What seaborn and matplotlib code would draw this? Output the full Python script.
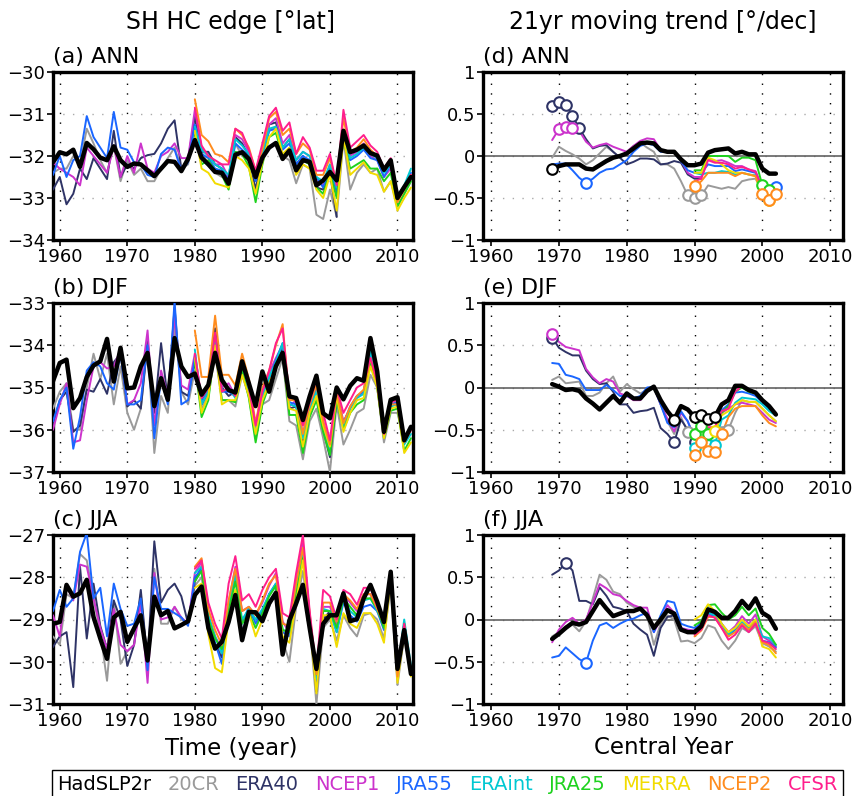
import numpy as np
import pandas as pd
import matplotlib
matplotlib.use("Agg")
import matplotlib.pyplot as plt
from matplotlib.ticker import FuncFormatter
import seaborn as sns

# ---- data -------------------------------------------------------------
names = ["HadSLP2r", "20CR", "ERA40", "NCEP1", "JRA55", "ERAint", "JRA25", "MERRA", "NCEP2", "CFSR"]
colors = ["#000000", "#9a9a9a", "#2e3366", "#cc33cc", "#1a66ff", "#00c8d2", "#1ed21e", "#f2dc00", "#ff8c1e", "#ff1e8c"]

yrs_full = list(range(1959, 2013))
yrs_era40 = list(range(1959, 2002))
yrs_sat = list(range(1980, 2013))
cy_full = list(range(1969, 2003))
cy_era40 = list(range(1969, 1992))
cy_sat = list(range(1990, 2003))

# (a) ANN edge latitude
ann_had = [-32.15, -31.91, -31.96, -31.85, -32.26, -31.69, -31.84, -32.04, -32.10, -31.77,
           -32.10, -32.26, -32.18, -32.20, -32.34, -32.48, -32.30, -32.12, -32.14, -32.36,
           -32.07, -31.62, -32.04, -32.20, -32.38, -32.40, -32.66, -31.97, -31.91, -32.07,
           -32.50, -32.04, -31.80, -31.69, -32.07, -31.87, -32.34, -32.10, -32.14, -32.70,
           -32.58, -32.38, -32.58, -31.40, -31.91, -31.85, -31.75, -31.93, -31.99, -32.33,
           -32.10, -33.00, -32.74, -32.50]
ann_20cr = [-32.40, -32.30, -32.30, -32.00, -32.20, -31.35, -31.70, -32.10, -32.40, -31.75,
            -32.60, -32.10, -32.45, -32.30, -32.60, -32.60, -32.30, -32.05, -31.80, -32.30,
            -32.20, -31.30, -31.90, -32.20, -32.40, -32.50, -32.50, -31.70, -32.00, -32.10,
            -32.60, -32.00, -31.40, -31.30, -32.00, -32.10, -32.65, -32.20, -32.30, -33.40,
            -33.50, -32.80, -33.45, -31.60, -32.80, -32.40, -32.20, -32.40, -32.30, -32.85,
            -32.60, -33.20, -32.90, -32.60]
ann_era40 = [-32.80, -32.50, -33.15, -32.90, -32.30, -32.55, -32.05, -32.30, -32.55, -31.40,
             -32.50, -32.20, -32.30, -32.05, -31.98, -31.95, -31.70, -31.35, -31.15, -32.30,
             -32.10, -31.05, -31.90, -31.90, -32.20, -32.30, -32.60, -31.55, -31.70, -32.00,
             -32.80, -32.00, -31.25, -31.20, -31.80, -31.60, -32.20, -32.00, -32.20, -32.75,
             -32.80, -32.40, -33.45]
ann_ncep1 = [-32.15, -32.30, -32.40, -32.50, -32.70, -31.80, -32.00, -32.20, -32.40, -31.75,
             -32.50, -32.00, -32.40, -31.70, -32.30, -32.40, -32.00, -31.90, -31.70, -32.05,
             -32.05, -30.90, -31.80, -32.00, -32.20, -32.20, -32.50, -31.50, -31.60, -31.90,
             -32.40, -31.90, -31.25, -31.10, -31.70, -31.50, -32.10, -31.90, -32.00, -32.60,
             -32.70, -32.20, -32.90, -31.50, -32.00, -31.90, -31.70, -32.00, -32.10, -32.50,
             -32.30, -33.00, -32.80, -32.50]
ann_jra55 = [-32.45, -32.00, -32.50, -32.10, -32.00, -31.05, -31.55, -31.80, -32.05, -30.95,
             -31.80, -31.85, -32.15, -32.20, -32.45, -32.50, -31.95, -31.80, -31.85, -32.35,
             -32.15, -31.25, -31.95, -32.05, -32.30, -32.35, -32.55, -31.70, -31.85, -32.00,
             -32.60, -32.00, -31.40, -31.35, -31.85, -31.70, -32.20, -32.00, -32.10, -32.50,
             -32.75, -32.30, -32.85, -31.55, -32.10, -32.00, -31.85, -32.05, -32.10, -32.50,
             -32.20, -33.00, -32.75, -32.40]
ann_eraint = [-31.30, -31.85, -32.00, -32.20, -32.30, -32.45, -31.60, -31.75, -31.95, -32.50,
              -31.95, -31.35, -31.30, -31.80, -31.60, -32.10, -31.90, -32.00, -32.50, -32.60,
              -32.20, -32.75, -31.50, -32.05, -31.95, -31.80, -31.95, -32.05, -32.40, -32.20,
              -32.95, -32.70, -32.30]
ann_jra25 = [-31.50, -32.20, -32.10, -32.35, -32.45, -32.80, -31.90, -31.95, -32.25, -33.10,
             -32.20, -31.55, -31.45, -32.00, -31.85, -32.35, -32.10, -32.20, -32.75, -32.90,
             -32.40, -33.00, -31.60, -32.30, -32.20, -32.10, -32.30, -32.30, -32.60, -32.40,
             -33.20, -32.90, -32.60]
ann_merra = [-31.40, -32.30, -32.40, -32.65, -32.70, -32.75, -32.00, -32.10, -32.30, -32.90,
             -32.15, -31.55, -31.35, -31.95, -31.80, -32.45, -32.20, -32.30, -32.80, -33.00,
             -32.45, -33.30, -31.55, -32.45, -32.30, -32.15, -32.40, -32.45, -32.85, -32.60,
             -33.30, -33.00, -32.75]
ann_ncep2 = [-30.65, -31.50, -31.65, -31.95, -32.00, -32.15, -31.35, -31.50, -31.80, -32.35,
             -31.85, -31.10, -30.95, -31.50, -31.35, -31.95, -31.70, -31.85, -32.45, -32.45,
             -32.05, -32.65, -31.10, -31.90, -31.80, -31.60, -31.85, -32.00, -32.35, -32.10,
             -33.10, -32.80, -32.45]
ann_cfsr = [-30.85, -31.75, -32.00, -32.10, -32.20, -32.20, -31.35, -31.45, -31.85, -32.35,
            -31.70, -31.05, -30.85, -31.40, -31.20, -31.95, -31.55, -31.80, -32.35, -32.35,
            -31.95, -32.70, -30.90, -31.80, -31.65, -31.50, -31.75, -31.90, -32.30, -32.05,
            -33.00, -32.75, -32.45]

# (b) DJF edge latitude
djf_had = [-34.85, -34.42, -34.34, -35.49, -35.25, -34.75, -34.48, -34.38, -33.85, -34.86,
           -34.06, -35.02, -35.00, -34.50, -34.18, -35.44, -34.78, -35.29, -33.83, -34.50,
           -34.75, -34.67, -35.17, -34.94, -34.18, -34.82, -35.06, -35.12, -34.38, -34.90,
           -35.44, -34.62, -35.10, -34.50, -34.18, -35.21, -35.25, -35.77, -35.21, -34.72,
           -35.61, -35.73, -35.00, -35.28, -34.96, -34.78, -34.84, -33.83, -34.62, -36.05,
           -35.29, -35.23, -36.25, -35.93]
djf_20cr = [-35.50, -35.10, -34.90, -36.00, -36.00, -35.00, -34.20, -34.80, -34.20, -35.40,
            -34.50, -35.60, -36.00, -35.50, -34.00, -36.55, -35.20, -35.60, -33.50, -35.10,
            -35.40, -34.60, -35.50, -35.20, -34.20, -35.30, -35.30, -35.45, -34.70, -35.20,
            -36.20, -35.40, -35.30, -34.80, -34.30, -35.80, -35.90, -36.70, -35.80, -35.50,
            -36.20, -37.00, -35.40, -36.35, -36.00, -35.60, -35.50, -34.70, -35.00, -36.30,
            -35.60, -35.60, -36.30, -36.00]
djf_era40 = [-35.90, -35.30, -35.10, -36.05, -35.90, -35.05, -35.10, -34.80, -35.15, -34.40,
             -34.20, -35.45, -35.30, -35.50, -33.90, -35.60, -33.95, -35.30, -33.10, -35.10,
             -35.20, -34.40, -35.40, -35.10, -33.60, -35.00, -35.20, -35.10, -34.50, -35.00,
             -36.10, -35.20, -34.90, -34.50, -34.05, -35.50, -35.45, -36.30, -35.60, -35.00,
             -36.00, -36.65, -35.30]
djf_ncep1 = [-36.00, -35.40, -34.90, -36.30, -36.25, -35.30, -34.50, -34.40, -34.55, -34.50,
             -34.10, -35.40, -35.30, -34.90, -33.65, -35.90, -34.60, -35.20, -33.30, -34.95,
             -35.05, -34.20, -35.30, -35.05, -33.80, -35.00, -34.90, -35.20, -34.40, -35.00,
             -35.90, -35.10, -34.65, -34.30, -34.00, -35.45, -35.30, -36.10, -35.40, -35.00,
             -35.80, -36.40, -35.10, -35.80, -35.50, -35.20, -35.10, -34.20, -34.80, -36.10,
             -35.40, -35.35, -36.30, -36.00]
djf_jra55 = [-35.80, -35.30, -35.00, -36.45, -35.70, -34.60, -34.40, -34.50, -34.90, -35.05,
             -34.20, -35.40, -35.40, -35.30, -34.00, -36.20, -34.75, -35.40, -32.95, -35.40,
             -35.30, -34.30, -35.30, -35.00, -33.90, -35.10, -35.10, -35.20, -34.50, -35.05,
             -36.10, -35.20, -34.80, -34.35, -33.95, -35.35, -35.40, -36.20, -35.50, -35.00,
             -35.90, -36.50, -35.20, -35.85, -35.45, -35.20, -35.10, -34.20, -34.80, -36.10,
             -35.40, -35.35, -36.20, -36.00]
djf_eraint = [-34.10, -35.40, -35.10, -33.80, -35.10, -35.00, -35.25, -34.50, -35.10, -36.00,
              -35.25, -34.75, -34.40, -33.95, -35.40, -35.45, -36.20, -35.50, -35.10, -35.95,
              -36.45, -35.15, -35.90, -35.50, -35.25, -35.15, -34.10, -34.90, -36.15, -35.45,
              -35.40, -36.35, -36.10]
djf_jra25 = [-34.40, -35.70, -35.30, -34.00, -35.30, -35.30, -35.35, -34.60, -35.25, -36.30,
             -35.40, -34.95, -34.50, -34.20, -35.65, -35.65, -36.55, -35.70, -35.30, -36.05,
             -36.60, -35.30, -36.00, -35.60, -35.40, -35.30, -34.40, -35.00, -36.20, -35.55,
             -35.50, -36.50, -36.20]
djf_merra = [-34.30, -35.60, -35.20, -34.00, -35.40, -35.30, -35.30, -34.70, -35.20, -36.10,
             -35.30, -34.90, -34.50, -34.20, -35.50, -35.55, -36.40, -35.60, -35.20, -35.90,
             -36.40, -35.20, -36.05, -35.60, -35.30, -35.25, -34.50, -35.00, -36.20, -35.50,
             -35.45, -36.55, -36.30]
djf_ncep2 = [-33.65, -34.75, -34.75, -33.30, -34.70, -34.70, -34.95, -34.20, -34.80, -35.85,
             -35.00, -34.60, -34.00, -33.50, -35.30, -35.30, -36.10, -35.40, -34.95, -35.80,
             -36.35, -35.10, -35.85, -35.45, -35.20, -35.05, -34.30, -34.90, -36.10, -35.40,
             -35.40, -36.30, -36.00]
djf_cfsr = [-34.20, -35.25, -35.00, -33.70, -35.10, -35.00, -35.20, -34.40, -35.00, -35.90,
            -35.10, -34.60, -33.95, -33.60, -35.25, -35.25, -35.90, -35.35, -34.80, -35.60,
            -36.25, -35.00, -35.60, -35.30, -35.00, -34.90, -34.30, -34.85, -36.10, -35.35,
            -35.30, -36.25, -36.00]

# (c) JJA edge latitude
jja_had = [-29.10, -29.06, -28.18, -28.46, -28.38, -28.06, -28.94, -29.45, -29.93, -28.95,
           -28.82, -29.53, -29.21, -28.90, -29.97, -28.46, -28.90, -28.80, -29.21, -29.13,
           -29.04, -28.42, -28.22, -29.20, -29.69, -29.53, -29.06, -28.42, -29.49, -28.82,
           -28.83, -29.04, -28.62, -28.37, -29.83, -29.02, -28.62, -28.18, -29.20, -30.17,
           -29.10, -28.90, -28.90, -28.38, -29.04, -28.99, -28.50, -28.18, -28.58, -29.06,
           -27.87, -30.17, -29.25, -30.29]
jja_20cr = [-29.40, -29.60, -28.40, -28.50, -27.45, -27.60, -28.50, -29.30, -30.45, -28.55,
            -30.05, -29.75, -29.60, -28.40, -30.10, -27.80, -29.10, -29.10, -28.70, -29.00,
            -29.10, -28.20, -28.00, -29.00, -29.60, -29.80, -29.00, -28.30, -29.35, -28.90,
            -29.00, -29.00, -28.70, -28.30, -29.50, -30.00, -28.70, -27.85, -29.10, -31.00,
            -29.20, -29.00, -29.50, -28.90, -29.20, -29.40, -28.90, -28.85, -29.00, -29.45,
            -28.20, -30.55, -29.40, -30.30]
jja_era40 = [-29.65, -29.40, -29.30, -30.60, -27.75, -29.45, -28.15, -29.15, -29.70, -28.55,
             -29.00, -30.10, -29.60, -28.30, -30.00, -27.15, -28.60, -28.30, -28.15, -28.45,
             -29.10, -28.10, -27.75, -29.10, -29.60, -29.90, -29.00, -27.85, -29.30, -28.80,
             -29.00, -28.90, -28.40, -28.20, -29.60, -29.20, -28.50, -27.50, -29.00, -30.70,
             -29.00, -28.80, -29.20]
jja_ncep1 = [-28.90, -29.40, -28.20, -28.55, -27.70, -27.75, -28.50, -29.20, -29.70, -28.75,
             -29.60, -29.75, -29.60, -28.60, -30.50, -27.90, -29.00, -28.95, -28.70, -28.95,
             -29.10, -27.90, -27.65, -28.90, -29.40, -29.70, -28.60, -27.75, -28.80, -28.70,
             -28.90, -28.60, -28.20, -27.90, -29.05, -29.30, -28.10, -27.20, -28.90, -30.30,
             -28.70, -28.70, -29.10, -28.40, -28.60, -28.80, -28.40, -28.40, -28.80, -29.10,
             -27.90, -30.30, -29.20, -30.20]
jja_jra55 = [-28.80, -28.30, -28.70, -28.50, -27.40, -26.95, -28.50, -28.25, -29.40, -28.15,
             -28.75, -29.15, -29.10, -28.50, -30.20, -28.00, -28.75, -28.75, -28.85, -28.95,
             -29.15, -28.00, -27.80, -29.00, -29.55, -30.05, -28.90, -27.95, -29.10, -28.70,
             -29.10, -28.80, -28.40, -28.15, -29.30, -29.40, -28.40, -27.50, -29.00, -30.50,
             -28.80, -28.80, -29.30, -28.60, -28.90, -29.05, -28.70, -28.65, -28.80, -29.25,
             -28.00, -30.20, -29.10, -30.20]
jja_eraint = [-27.90, -27.75, -28.90, -29.40, -29.80, -28.70, -27.95, -29.00, -28.75, -29.00,
              -28.75, -28.40, -28.15, -29.25, -29.30, -28.30, -27.45, -28.95, -30.40, -28.75,
              -28.80, -29.30, -28.50, -28.80, -28.95, -28.55, -28.50, -28.80, -29.10, -27.90,
              -30.20, -29.00, -30.10]
jja_jra25 = [-28.10, -27.85, -29.00, -29.45, -29.70, -28.80, -28.10, -29.10, -28.85, -29.20,
             -28.85, -28.45, -28.20, -29.25, -29.30, -28.40, -27.55, -28.95, -30.30, -28.80,
             -28.80, -29.20, -28.50, -28.70, -28.90, -28.50, -28.50, -28.75, -29.20, -27.95,
             -30.25, -29.10, -30.20]
jja_merra = [-28.25, -28.15, -29.35, -30.15, -30.25, -29.00, -28.30, -29.40, -28.85, -29.40,
             -29.00, -28.60, -28.40, -29.40, -29.55, -28.60, -27.60, -29.10, -30.75, -28.90,
             -28.90, -29.65, -28.85, -29.10, -29.20, -28.85, -28.85, -29.10, -29.55, -28.05,
             -30.50, -29.30, -30.35]
jja_ncep2 = [-27.75, -27.55, -28.75, -29.25, -29.60, -28.55, -27.80, -28.80, -28.70, -28.90,
             -28.55, -28.15, -27.95, -29.10, -29.15, -28.15, -27.30, -28.85, -30.30, -28.60,
             -28.60, -29.05, -28.40, -28.55, -28.75, -28.40, -28.40, -28.75, -29.10, -27.90,
             -30.35, -29.15, -30.25]
jja_cfsr = [-27.80, -27.60, -28.60, -29.10, -29.45, -28.15, -27.50, -28.55, -28.40, -28.70,
            -28.30, -28.00, -27.80, -28.85, -28.95, -27.90, -27.00, -28.80, -30.20, -28.30,
            -28.45, -29.00, -28.30, -28.40, -28.65, -28.25, -28.25, -28.70, -29.00, -27.85,
            -30.20, -29.10, -30.20]

# (d) ANN 21yr moving trend
tann_had = [-0.16, -0.12, -0.10, -0.10, -0.10, -0.15, -0.16, -0.11, -0.06, -0.02,
            0.00, 0.03, 0.09, 0.15, 0.16, 0.15, 0.07, 0.05, 0.05, -0.04,
            -0.11, -0.11, -0.09, 0.04, 0.07, 0.08, 0.09, 0.03, 0.05, 0.02,
            0.02, -0.15, -0.21, -0.21]
tann_20cr = [-0.02, 0.11, 0.06, 0.02, -0.03, -0.10, -0.05, 0.03, 0.11, 0.05,
             -0.02, 0.05, 0.12, 0.16, 0.10, 0.05, -0.10, -0.10, -0.15, -0.30,
             -0.47, -0.50, -0.47, -0.35, -0.37, -0.39, -0.37, -0.39, -0.30, -0.28,
             -0.27, -0.42, -0.46, -0.44]
tann_era40 = [0.59, 0.64, 0.61, 0.48, 0.33, 0.20, 0.09, 0.12, 0.13, 0.05,
              -0.02, -0.10, -0.07, -0.03, -0.03, -0.04, -0.10, -0.09, -0.06, -0.08,
              -0.22, -0.27, -0.27]
tann_ncep1 = [0.19, 0.32, 0.34, 0.33, 0.30, 0.17, 0.10, 0.13, 0.15, 0.11,
              0.08, 0.05, 0.12, 0.18, 0.21, 0.20, 0.07, 0.05, 0.05, -0.05,
              -0.20, -0.25, -0.25, -0.03, -0.06, -0.05, -0.08, -0.12, -0.12, -0.16,
              -0.18, -0.38, -0.41, -0.38]
tann_jra55 = [-0.10, -0.09, -0.09, -0.17, -0.26, -0.32, -0.27, -0.20, -0.16, -0.15,
              -0.10, -0.05, 0.05, 0.12, 0.15, 0.13, 0.05, 0.05, 0.04, -0.06,
              -0.17, -0.20, -0.20, -0.10, -0.12, -0.12, -0.12, -0.18, -0.16, -0.18,
              -0.20, -0.38, -0.42, -0.37]
tann_eraint = [-0.20, -0.22, -0.20, -0.20, -0.18, -0.19, -0.22, -0.20, -0.22, -0.23, -0.40, -0.43, -0.40]
tann_jra25 = [-0.17, -0.17, 0.00, 0.00, 0.00, 0.00, -0.07, -0.02, -0.02, -0.05, -0.35, -0.40, -0.38]
tann_merra = [-0.20, -0.20, -0.02, -0.05, -0.10, -0.17, -0.20, -0.20, -0.22, -0.24, -0.48, -0.52, -0.47]
tann_ncep2 = [-0.36, -0.30, -0.20, -0.20, -0.20, -0.20, -0.24, -0.20, -0.22, -0.24, -0.45, -0.52, -0.45]
tann_cfsr = [-0.30, -0.27, -0.05, -0.08, -0.08, -0.10, -0.15, -0.13, -0.16, -0.19, -0.38, -0.40, -0.37]

# (e) DJF 21yr moving trend
tdjf_had = [0.04, 0.01, -0.03, -0.02, -0.04, -0.13, -0.19, -0.26, -0.18, -0.10,
            -0.18, -0.07, -0.13, -0.13, -0.04, 0.01, -0.15, -0.28, -0.38, -0.22,
            -0.26, -0.35, -0.33, -0.37, -0.35, -0.20, -0.15, 0.02, 0.02, -0.03,
            -0.06, -0.15, -0.22, -0.32]
tdjf_20cr = [0.09, 0.13, 0.05, 0.06, 0.07, -0.10, -0.10, -0.06, 0.05, 0.13,
             -0.05, 0.04, -0.02, -0.07, -0.03, 0.00, -0.20, -0.40, -0.55, -0.35,
             -0.53, -0.55, -0.52, -0.50, -0.50, -0.53, -0.50, -0.30, -0.15, -0.17,
             -0.17, -0.25, -0.33, -0.40]
tdjf_era40 = [0.59, 0.47, 0.42, 0.38, 0.38, 0.20, 0.10, 0.04, 0.05, -0.05,
              -0.20, -0.20, -0.30, -0.28, -0.27, -0.24, -0.48, -0.55, -0.65, -0.38,
              -0.50, -0.65, -0.50]
tdjf_ncep1 = [0.63, 0.54, 0.48, 0.46, 0.44, 0.22, 0.12, 0.05, 0.10, 0.07,
              -0.07, -0.10, -0.15, -0.15, -0.05, 0.01, -0.20, -0.37, -0.52, -0.30,
              -0.40, -0.60, -0.42, -0.50, -0.48, -0.30, -0.25, -0.20, -0.18, -0.20,
              -0.22, -0.30, -0.38, -0.42]
tdjf_jra55 = [0.29, 0.28, 0.15, 0.13, 0.10, -0.03, -0.03, -0.03, 0.03, -0.03,
              -0.10, -0.10, -0.13, -0.10, 0.00, 0.01, -0.20, -0.42, -0.47, -0.28,
              -0.40, -0.60, -0.45, -0.50, -0.50, -0.27, -0.20, -0.06, -0.05, -0.07,
              -0.10, -0.17, -0.26, -0.32]
tdjf_eraint = [-0.72, -0.60, -0.68, -0.68, -0.38, -0.33, -0.18, -0.12, -0.13, -0.14, -0.20, -0.28, -0.33]
tdjf_jra25 = [-0.55, -0.45, -0.55, -0.55, -0.30, -0.22, -0.05, 0.00, -0.05, -0.07, -0.15, -0.24, -0.30]
tdjf_merra = [-0.58, -0.50, -0.55, -0.52, -0.33, -0.28, -0.20, -0.15, -0.17, -0.17, -0.25, -0.33, -0.40]
tdjf_ncep2 = [-0.80, -0.65, -0.75, -0.76, -0.55, -0.35, -0.25, -0.22, -0.22, -0.22, -0.33, -0.42, -0.46]
tdjf_cfsr = [-0.50, -0.42, -0.47, -0.47, -0.28, -0.25, -0.05, 0.02, -0.03, -0.06, -0.15, -0.22, -0.30]

# (f) JJA 21yr moving trend
tjja_had = [-0.23, -0.17, -0.10, -0.04, -0.06, -0.03, 0.10, 0.23, 0.13, 0.04,
            0.07, 0.10, 0.10, 0.13, 0.05, -0.10, 0.00, 0.11, 0.07, -0.12,
            -0.15, -0.15, -0.08, 0.12, 0.09, 0.02, 0.02, 0.10, 0.22, 0.13,
            0.25, 0.08, 0.03, -0.11]
tjja_20cr = [-0.20, -0.15, -0.08, -0.06, -0.14, -0.02, 0.25, 0.53, 0.47, 0.33,
             0.30, 0.20, 0.15, 0.12, 0.05, -0.30, -0.05, 0.05, 0.00, -0.26,
             -0.25, -0.28, -0.22, -0.07, -0.10, -0.25, -0.35, -0.25, -0.10, -0.15,
             -0.08, -0.28, -0.32, -0.38]
tjja_era40 = [0.53, 0.58, 0.67, 0.58, 0.22, 0.22, 0.18, 0.38, 0.28, 0.15,
              0.13, 0.10, -0.05, -0.12, -0.18, -0.43, -0.10, 0.03, 0.05, -0.12,
              -0.15, -0.13, -0.03]
tjja_ncep1 = [-0.27, -0.12, -0.03, 0.02, -0.05, 0.00, 0.20, 0.42, 0.37, 0.30,
              0.28, 0.22, 0.17, 0.14, 0.14, -0.15, 0.00, 0.17, 0.08, -0.10,
              -0.12, -0.13, -0.07, 0.10, 0.05, -0.05, -0.15, -0.08, 0.04, -0.05,
              0.06, -0.20, -0.25, -0.32]
tjja_jra55 = [-0.45, -0.43, -0.33, -0.40, -0.47, -0.51, -0.25, -0.07, -0.04, -0.10,
              -0.05, -0.01, 0.01, 0.05, 0.08, -0.15, 0.05, 0.22, 0.20, -0.05,
              -0.08, -0.10, -0.05, 0.07, 0.03, -0.05, -0.20, -0.12, -0.05, -0.12,
              -0.03, -0.25, -0.27, -0.33]
tjja_eraint = [-0.15, -0.08, 0.08, 0.05, -0.05, -0.18, -0.10, -0.03, -0.10, 0.00, -0.20, -0.22, -0.30]
tjja_jra25 = [-0.07, -0.02, 0.17, 0.18, 0.08, 0.00, 0.05, 0.15, 0.05, 0.13, -0.10, -0.17, -0.30]
tjja_merra = [0.00, 0.05, 0.18, 0.10, -0.05, -0.15, -0.10, 0.00, -0.08, 0.00, -0.32, -0.35, -0.45]
tjja_ncep2 = [-0.20, -0.13, 0.03, 0.03, -0.10, -0.20, -0.15, -0.05, -0.12, -0.03, -0.27, -0.30, -0.40]
tjja_cfsr = [-0.18, -0.12, 0.05, 0.02, -0.10, -0.24, -0.18, -0.07, -0.15, -0.05, -0.25, -0.28, -0.35]

# central years where the trend is significant (open circles)
sig_ann = {"HadSLP2r": [1969], "20CR": [1989, 1990, 1991], "ERA40": [1969, 1970, 1971, 1972, 1973],
           "NCEP1": [1970, 1971, 1972], "JRA55": [1974, 2002], "JRA25": [2000, 2001],
           "MERRA": [2001], "NCEP2": [1990, 2000, 2001, 2002]}
sig_djf = {"HadSLP2r": [1987, 1990, 1991, 1992, 1993], "20CR": [1989, 1994, 1995],
           "ERA40": [1969, 1987, 1990], "NCEP1": [1969], "ERAint": [1990, 1992, 1993],
           "JRA25": [1990, 1991, 1992], "MERRA": [1993], "NCEP2": [1990, 1991, 1992, 1993, 1994]}
sig_jja = {"ERA40": [1971], "JRA55": [1974]}

# ---- layout -----------------------------------------------------------
sns.set_theme(style="white")
plt.rcParams["font.family"] = ["DejaVu Sans"]
plt.rcParams["axes.unicode_minus"] = True
plt.rcParams["text.color"] = "black"
plt.rcParams["axes.labelcolor"] = "black"
plt.rcParams["xtick.color"] = "black"
plt.rcParams["ytick.color"] = "black"

W, H = 852, 796
fig = plt.figure(figsize=(W / 100, H / 100), dpi=100)

def box(x0, y0, x1, y1):
    return [x0 / W, 1 - y1 / H, (x1 - x0) / W, (y1 - y0) / H]

rows = [(72, 240), (303, 472), (535, 704)]
left_axes = [fig.add_axes(box(53, r0, 413, r1)) for r0, r1 in rows]
right_axes = [fig.add_axes(box(483, r0, 843, r1)) for r0, r1 in rows]

color_of = dict(zip(names, colors))
fmt = FuncFormatter(lambda v, _: f"{v:g}".replace("-", "\u2212"))
tick_font = "Liberation Sans Narrow"


def style_axes(ax, xlim, ylim, yticks):
    ax.set_xlim(*xlim)
    ax.set_ylim(*ylim)
    ax.set_xticks(range(1960, 2011, 10))
    ax.set_yticks(yticks)
    ax.yaxis.set_major_formatter(fmt)
    ax.set_xlabel("")
    ax.set_ylabel("")
    for s in ax.spines.values():
        s.set_linewidth(2.4)
        s.set_color("black")
    ax.tick_params(direction="out", length=4, width=1.2, pad=1.5, labelsize=13,
                   colors="black", bottom=True, left=True)
    for lab in ax.get_xticklabels() + ax.get_yticklabels():
        lab.set_fontfamily(tick_font)
    for x in range(1960, 2011, 10):
        ax.axvline(x, color="black", lw=1.0, ls=(0, (1, 6)), zorder=0)
    for y in yticks[1:-1]:
        ax.axhline(y, color="#aaaaaa", lw=1.0, ls=(0, (1, 6)), zorder=0)


def draw_panel(ax, series, sig=None):
    order = names[1:] + names[:1]
    for nm in order:
        x, y = series[nm]
        lw = 3.2 if nm == "HadSLP2r" else 1.4
        sns.lineplot(x=x, y=y, ax=ax, color=color_of[nm], linewidth=lw,
                     label=nm, legend=False, zorder=5 if nm == "HadSLP2r" else 3)
    if sig:
        for nm in order:
            if nm not in sig:
                continue
            x, y = series[nm]
            lookup = dict(zip(x, y))
            sx = sig[nm]
            sy = [lookup[v] for v in sx]
            ax.scatter(sx, sy, s=58, facecolor="white", edgecolor=color_of[nm],
                       linewidth=1.5, zorder=6 if nm == "HadSLP2r" else 4)


left_data = [
    {"HadSLP2r": (yrs_full, ann_had), "20CR": (yrs_full, ann_20cr), "ERA40": (yrs_era40, ann_era40),
     "NCEP1": (yrs_full, ann_ncep1), "JRA55": (yrs_full, ann_jra55), "ERAint": (yrs_sat, ann_eraint),
     "JRA25": (yrs_sat, ann_jra25), "MERRA": (yrs_sat, ann_merra), "NCEP2": (yrs_sat, ann_ncep2),
     "CFSR": (yrs_sat, ann_cfsr)},
    {"HadSLP2r": (yrs_full, djf_had), "20CR": (yrs_full, djf_20cr), "ERA40": (yrs_era40, djf_era40),
     "NCEP1": (yrs_full, djf_ncep1), "JRA55": (yrs_full, djf_jra55), "ERAint": (yrs_sat, djf_eraint),
     "JRA25": (yrs_sat, djf_jra25), "MERRA": (yrs_sat, djf_merra), "NCEP2": (yrs_sat, djf_ncep2),
     "CFSR": (yrs_sat, djf_cfsr)},
    {"HadSLP2r": (yrs_full, jja_had), "20CR": (yrs_full, jja_20cr), "ERA40": (yrs_era40, jja_era40),
     "NCEP1": (yrs_full, jja_ncep1), "JRA55": (yrs_full, jja_jra55), "ERAint": (yrs_sat, jja_eraint),
     "JRA25": (yrs_sat, jja_jra25), "MERRA": (yrs_sat, jja_merra), "NCEP2": (yrs_sat, jja_ncep2),
     "CFSR": (yrs_sat, jja_cfsr)},
]
right_data = [
    {"HadSLP2r": (cy_full, tann_had), "20CR": (cy_full, tann_20cr), "ERA40": (cy_era40, tann_era40),
     "NCEP1": (cy_full, tann_ncep1), "JRA55": (cy_full, tann_jra55), "ERAint": (cy_sat, tann_eraint),
     "JRA25": (cy_sat, tann_jra25), "MERRA": (cy_sat, tann_merra), "NCEP2": (cy_sat, tann_ncep2),
     "CFSR": (cy_sat, tann_cfsr)},
    {"HadSLP2r": (cy_full, tdjf_had), "20CR": (cy_full, tdjf_20cr), "ERA40": (cy_era40, tdjf_era40),
     "NCEP1": (cy_full, tdjf_ncep1), "JRA55": (cy_full, tdjf_jra55), "ERAint": (cy_sat, tdjf_eraint),
     "JRA25": (cy_sat, tdjf_jra25), "MERRA": (cy_sat, tdjf_merra), "NCEP2": (cy_sat, tdjf_ncep2),
     "CFSR": (cy_sat, tdjf_cfsr)},
    {"HadSLP2r": (cy_full, tjja_had), "20CR": (cy_full, tjja_20cr), "ERA40": (cy_era40, tjja_era40),
     "NCEP1": (cy_full, tjja_ncep1), "JRA55": (cy_full, tjja_jra55), "ERAint": (cy_sat, tjja_eraint),
     "JRA25": (cy_sat, tjja_jra25), "MERRA": (cy_sat, tjja_merra), "NCEP2": (cy_sat, tjja_ncep2),
     "CFSR": (cy_sat, tjja_cfsr)},
]
sigs = [sig_ann, sig_djf, sig_jja]

left_ylims = [(-34, -30), (-37, -33), (-31, -27)]
left_labels = ["(a) ANN", "(b) DJF", "(c) JJA"]
right_labels = ["(d) ANN", "(e) DJF", "(f) JJA"]

for i, ax in enumerate(left_axes):
    lo, hi = left_ylims[i]
    draw_panel(ax, left_data[i])
    style_axes(ax, (1959, 2012.3), (lo, hi), list(range(lo, hi + 1)))
    ax.text(0.0, 1.03, left_labels[i], transform=ax.transAxes, fontsize=16,
            ha="left", va="bottom")

for i, ax in enumerate(right_axes):
    ax.axhline(0, color="#555555", lw=1.1, zorder=1)
    draw_panel(ax, right_data[i], sigs[i])
    style_axes(ax, (1958.8, 2011.9), (-1, 1), [-1, -0.5, 0, 0.5, 1])
    ax.text(0.0, 1.03, right_labels[i], transform=ax.transAxes, fontsize=16,
            ha="left", va="bottom")

fig.text(230 / W, 1 - 22 / H, "SH HC edge [\u00b0lat]", ha="center", va="center", fontsize=17)
fig.text(663 / W, 1 - 22 / H, "21yr moving trend [\u00b0/dec]", ha="center", va="center", fontsize=17)
fig.text(231 / W, 1 - 748 / H, "Time (year)", ha="center", va="center", fontsize=16.5)
fig.text(664 / W, 1 - 748 / H, "Central Year", ha="center", va="center", fontsize=16.5)

handles, labels = left_axes[0].get_legend_handles_labels()
hmap = dict(zip(labels, handles))
leg = fig.legend([hmap[n] for n in names], names, loc="lower left",
                 bbox_to_anchor=(52 / W, -0.004, 791 / W, 0.04), mode="expand", ncol=10,
                 handlelength=0, handletextpad=0, borderaxespad=0, borderpad=0.25,
                 fancybox=False, edgecolor="black", framealpha=1, labelcolor="linecolor",
                 prop={"family": tick_font, "size": 14})
leg.get_frame().set_linewidth(1.0)

fig.savefig("out.png", dpi=100)
